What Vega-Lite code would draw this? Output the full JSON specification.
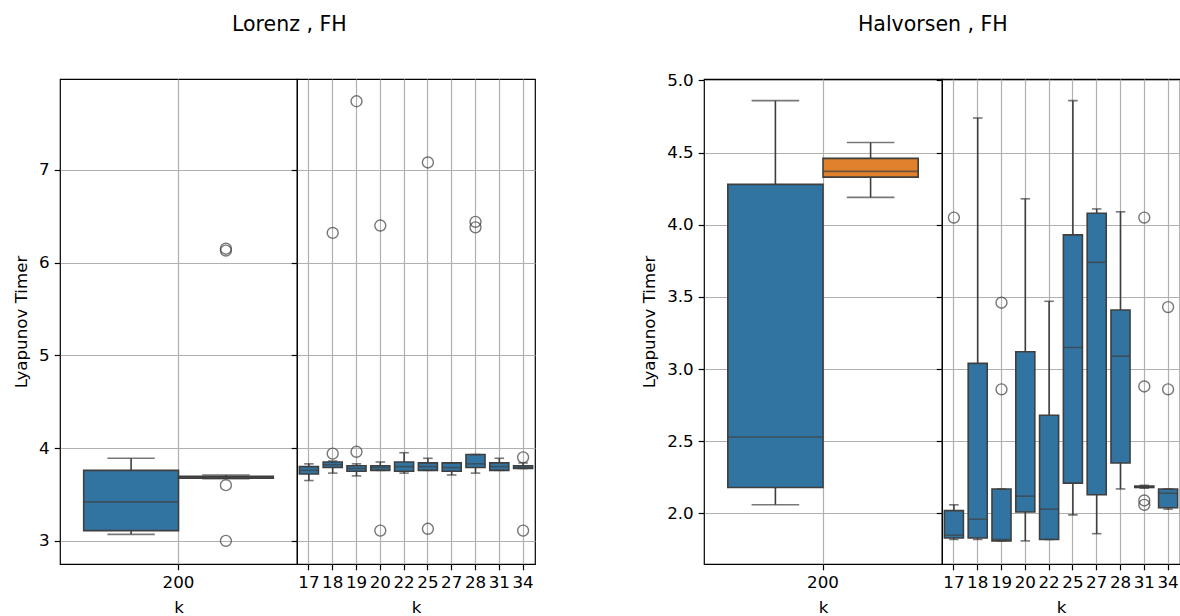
{
  "$schema": "https://vega.github.io/schema/vega-lite/v6.json",
  "padding": {"left": 12, "top": 14, "right": 0, "bottom": 0},
  "background": "white",
  "datasets": {
    "L200_box": [
      {"k": "200", "g": "A", "lo": 3.07, "q1": 3.11, "med": 3.42, "q3": 3.76, "hi": 3.89},
      {"k": "200", "g": "B", "lo": 3.67, "q1": 3.675, "med": 3.685, "q3": 3.695, "hi": 3.71}
    ],
    "L200_out": [
      {"k": "200", "g": "B", "v": 6.15},
      {"k": "200", "g": "B", "v": 6.13},
      {"k": "200", "g": "B", "v": 3.60},
      {"k": "200", "g": "B", "v": 3.00}
    ],
    "Lk_box": [
      {"k": "17", "lo": 3.65, "q1": 3.72, "med": 3.76, "q3": 3.80, "hi": 3.83},
      {"k": "18", "lo": 3.73, "q1": 3.79, "med": 3.82, "q3": 3.85, "hi": 3.86},
      {"k": "19", "lo": 3.70, "q1": 3.75, "med": 3.78, "q3": 3.81, "hi": 3.83},
      {"k": "20", "lo": 3.76, "q1": 3.76, "med": 3.79, "q3": 3.81, "hi": 3.85},
      {"k": "22", "lo": 3.73, "q1": 3.75, "med": 3.80, "q3": 3.85, "hi": 3.95},
      {"k": "25", "lo": 3.76, "q1": 3.76, "med": 3.80, "q3": 3.84, "hi": 3.89},
      {"k": "27", "lo": 3.71, "q1": 3.75, "med": 3.79, "q3": 3.84, "hi": 3.84},
      {"k": "28", "lo": 3.73, "q1": 3.79, "med": 3.83, "q3": 3.93, "hi": 3.93},
      {"k": "31", "lo": 3.76, "q1": 3.76, "med": 3.80, "q3": 3.84, "hi": 3.89},
      {"k": "34", "lo": 3.78, "q1": 3.78, "med": 3.79, "q3": 3.81, "hi": 3.84}
    ],
    "Lk_out": [
      {"k": "18", "v": 3.94}, {"k": "18", "v": 6.32},
      {"k": "19", "v": 3.96}, {"k": "19", "v": 7.74},
      {"k": "20", "v": 6.40}, {"k": "20", "v": 3.11},
      {"k": "25", "v": 7.08}, {"k": "25", "v": 3.13},
      {"k": "28", "v": 6.44}, {"k": "28", "v": 6.38},
      {"k": "34", "v": 3.90}, {"k": "34", "v": 3.11}
    ],
    "H200_box": [
      {"k": "200", "g": "A", "lo": 2.06, "q1": 2.18, "med": 2.53, "q3": 4.28, "hi": 4.86},
      {"k": "200", "g": "B", "lo": 4.19, "q1": 4.33, "med": 4.37, "q3": 4.46, "hi": 4.57}
    ],
    "Hk_box": [
      {"k": "17", "lo": 1.82, "q1": 1.83, "med": 1.85, "q3": 2.02, "hi": 2.06},
      {"k": "18", "lo": 1.82, "q1": 1.83, "med": 1.96, "q3": 3.04, "hi": 4.74},
      {"k": "19", "lo": 1.81, "q1": 1.81, "med": 1.82, "q3": 2.17, "hi": 2.17},
      {"k": "20", "lo": 1.81, "q1": 2.01, "med": 2.12, "q3": 3.12, "hi": 4.18},
      {"k": "22", "lo": 1.82, "q1": 1.82, "med": 2.03, "q3": 2.68, "hi": 3.47},
      {"k": "25", "lo": 1.99, "q1": 2.21, "med": 3.15, "q3": 3.93, "hi": 4.86},
      {"k": "27", "lo": 1.86, "q1": 2.13, "med": 3.74, "q3": 4.08, "hi": 4.11},
      {"k": "28", "lo": 2.17, "q1": 2.35, "med": 3.09, "q3": 3.41, "hi": 4.09},
      {"k": "31", "lo": 2.175, "q1": 2.18, "med": 2.185, "q3": 2.19, "hi": 2.195},
      {"k": "34", "lo": 2.03, "q1": 2.04, "med": 2.14, "q3": 2.17, "hi": 2.17}
    ],
    "Hk_out": [
      {"k": "17", "v": 4.05},
      {"k": "19", "v": 3.46}, {"k": "19", "v": 2.86},
      {"k": "31", "v": 4.05}, {"k": "31", "v": 2.88}, {"k": "31", "v": 2.09}, {"k": "31", "v": 2.06},
      {"k": "34", "v": 3.43}, {"k": "34", "v": 2.86}
    ]
  },
  "hconcat": [
    {
      "title": {"text": "Lorenz , FH", "anchor": "middle", "offset": 43, "dx": 15},
      "bounds": "flush",
      "spacing": 0,
      "resolve": {"scale": {"x": "independent", "y": "independent", "xOffset": "independent"}},
      "hconcat": [
        {
          "width": 237, "height": 485,
          "layer": [
            {"data": {"name": "L200_box"}, "mark": {"type": "rule", "color": "#3f3f3f", "strokeWidth": 1.6},
             "encoding": {
               "x": {"field": "k", "type": "nominal", "scale": {"domain": ["200"], "paddingInner": 0, "paddingOuter": 0.125}, "axis": {"title": "k", "labelAngle": 0, "bandPosition": 0.5}},
               "xOffset": {"field": "g", "type": "nominal", "scale": {"domain": ["A", "B"], "paddingInner": 0, "paddingOuter": 0}},
               "y": {"field": "lo", "type": "quantitative", "scale": {"domain": [2.75, 7.98], "nice": false, "zero": false}, "axis": {"title": "Lyapunov Timer", "values": [3, 4, 5, 6, 7], "format": "d"}},
               "y2": {"field": "hi"}}},
            {"data": {"name": "L200_box"}, "mark": {"type": "bar", "stroke": "#3f3f3f", "strokeWidth": 1.6},
             "encoding": {
               "x": {"field": "k", "type": "nominal"},
               "xOffset": {"field": "g", "type": "nominal"},
               "y": {"field": "q1", "type": "quantitative"},
               "y2": {"field": "q3"},
               "color": {"field": "g", "type": "nominal", "scale": {"domain": ["A", "B"], "range": ["#3274a1", "#e1812c"]}, "legend": null}}},
            {"data": {"name": "L200_box"}, "mark": {"type": "tick", "color": "#3f3f3f", "size": 94.8, "thickness": 1.6},
             "encoding": {"x": {"field": "k", "type": "nominal"}, "xOffset": {"field": "g", "type": "nominal"}, "y": {"field": "med", "type": "quantitative"}}},
            {"data": {"name": "L200_box"}, "mark": {"type": "tick", "color": "#3f3f3f", "size": 47.4, "thickness": 1.6},
             "encoding": {"x": {"field": "k", "type": "nominal"}, "xOffset": {"field": "g", "type": "nominal"}, "y": {"field": "lo", "type": "quantitative"}}},
            {"data": {"name": "L200_box"}, "mark": {"type": "tick", "color": "#3f3f3f", "size": 47.4, "thickness": 1.6},
             "encoding": {"x": {"field": "k", "type": "nominal"}, "xOffset": {"field": "g", "type": "nominal"}, "y": {"field": "hi", "type": "quantitative"}}},
            {"data": {"name": "L200_out"}, "mark": {"type": "point", "shape": "circle", "filled": false, "color": "#3f3f3f", "size": 120, "strokeWidth": 1.4},
             "encoding": {"x": {"field": "k", "type": "nominal"}, "xOffset": {"field": "g", "type": "nominal"}, "y": {"field": "v", "type": "quantitative"}}}
          ]
        },
        {
          "width": 238, "height": 485,
          "layer": [
            {"data": {"name": "Lk_box"}, "mark": {"type": "rule", "color": "#3f3f3f", "strokeWidth": 1.6},
             "encoding": {
               "x": {"field": "k", "type": "ordinal", "scale": {"domain": ["17", "18", "19", "20", "22", "25", "27", "28", "31", "34"], "paddingInner": 0, "paddingOuter": 0}, "axis": {"title": "k", "labelAngle": 0, "bandPosition": 0.5, "labelOverlap": false}},
               "y": {"field": "lo", "type": "quantitative", "scale": {"domain": [2.75, 7.98], "nice": false, "zero": false}, "axis": {"title": null, "labels": false, "values": [3, 4, 5, 6, 7]}},
               "y2": {"field": "hi"}}},
            {"data": {"name": "Lk_box"}, "mark": {"type": "bar", "fill": "#3274a1", "stroke": "#3f3f3f", "strokeWidth": 1.6, "width": {"band": 0.8}},
             "encoding": {"x": {"field": "k", "type": "ordinal"}, "y": {"field": "q1", "type": "quantitative"}, "y2": {"field": "q3"}}},
            {"data": {"name": "Lk_box"}, "mark": {"type": "tick", "color": "#3f3f3f", "size": 19, "thickness": 1.6},
             "encoding": {"x": {"field": "k", "type": "ordinal"}, "y": {"field": "med", "type": "quantitative"}}},
            {"data": {"name": "Lk_box"}, "mark": {"type": "tick", "color": "#3f3f3f", "size": 9.5, "thickness": 1.6},
             "encoding": {"x": {"field": "k", "type": "ordinal"}, "y": {"field": "lo", "type": "quantitative"}}},
            {"data": {"name": "Lk_box"}, "mark": {"type": "tick", "color": "#3f3f3f", "size": 9.5, "thickness": 1.6},
             "encoding": {"x": {"field": "k", "type": "ordinal"}, "y": {"field": "hi", "type": "quantitative"}}},
            {"data": {"name": "Lk_out"}, "mark": {"type": "point", "shape": "circle", "filled": false, "color": "#3f3f3f", "size": 120, "strokeWidth": 1.4},
             "encoding": {"x": {"field": "k", "type": "ordinal"}, "y": {"field": "v", "type": "quantitative"}}}
          ]
        }
      ]
    },
    {
      "title": {"text": "Halvorsen , FH", "anchor": "middle", "offset": 36, "dx": 22},
      "bounds": "flush",
      "spacing": 0,
      "resolve": {"scale": {"x": "independent", "y": "independent", "xOffset": "independent"}},
      "hconcat": [
        {
          "width": 238, "height": 485,
          "layer": [
            {"data": {"name": "H200_box"}, "mark": {"type": "rule", "color": "#3f3f3f", "strokeWidth": 1.6},
             "encoding": {
               "x": {"field": "k", "type": "nominal", "scale": {"domain": ["200"], "paddingInner": 0, "paddingOuter": 0.125}, "axis": {"title": "k", "labelAngle": 0, "bandPosition": 0.5}},
               "xOffset": {"field": "g", "type": "nominal", "scale": {"domain": ["A", "B"], "paddingInner": 0, "paddingOuter": 0}},
               "y": {"field": "lo", "type": "quantitative", "scale": {"domain": [1.65, 5.01], "nice": false, "zero": false}, "axis": {"title": "Lyapunov Timer", "values": [2.0, 2.5, 3.0, 3.5, 4.0, 4.5, 5.0], "format": ".1f"}},
               "y2": {"field": "hi"}}},
            {"data": {"name": "H200_box"}, "mark": {"type": "bar", "stroke": "#3f3f3f", "strokeWidth": 1.6},
             "encoding": {
               "x": {"field": "k", "type": "nominal"},
               "xOffset": {"field": "g", "type": "nominal"},
               "y": {"field": "q1", "type": "quantitative"},
               "y2": {"field": "q3"},
               "color": {"field": "g", "type": "nominal", "scale": {"domain": ["A", "B"], "range": ["#3274a1", "#e1812c"]}, "legend": null}}},
            {"data": {"name": "H200_box"}, "mark": {"type": "tick", "color": "#3f3f3f", "size": 95.2, "thickness": 1.6},
             "encoding": {"x": {"field": "k", "type": "nominal"}, "xOffset": {"field": "g", "type": "nominal"}, "y": {"field": "med", "type": "quantitative"}}},
            {"data": {"name": "H200_box"}, "mark": {"type": "tick", "color": "#3f3f3f", "size": 47.6, "thickness": 1.6},
             "encoding": {"x": {"field": "k", "type": "nominal"}, "xOffset": {"field": "g", "type": "nominal"}, "y": {"field": "lo", "type": "quantitative"}}},
            {"data": {"name": "H200_box"}, "mark": {"type": "tick", "color": "#3f3f3f", "size": 47.6, "thickness": 1.6},
             "encoding": {"x": {"field": "k", "type": "nominal"}, "xOffset": {"field": "g", "type": "nominal"}, "y": {"field": "hi", "type": "quantitative"}}}
          ]
        },
        {
          "width": 238, "height": 485,
          "layer": [
            {"data": {"name": "Hk_box"}, "mark": {"type": "rule", "color": "#3f3f3f", "strokeWidth": 1.6},
             "encoding": {
               "x": {"field": "k", "type": "ordinal", "scale": {"domain": ["17", "18", "19", "20", "22", "25", "27", "28", "31", "34"], "paddingInner": 0, "paddingOuter": 0}, "axis": {"title": "k", "labelAngle": 0, "bandPosition": 0.5, "labelOverlap": false}},
               "y": {"field": "lo", "type": "quantitative", "scale": {"domain": [1.65, 5.01], "nice": false, "zero": false}, "axis": {"title": null, "labels": false, "values": [2.0, 2.5, 3.0, 3.5, 4.0, 4.5, 5.0]}},
               "y2": {"field": "hi"}}},
            {"data": {"name": "Hk_box"}, "mark": {"type": "bar", "fill": "#3274a1", "stroke": "#3f3f3f", "strokeWidth": 1.6, "width": {"band": 0.8}},
             "encoding": {"x": {"field": "k", "type": "ordinal"}, "y": {"field": "q1", "type": "quantitative"}, "y2": {"field": "q3"}}},
            {"data": {"name": "Hk_box"}, "mark": {"type": "tick", "color": "#3f3f3f", "size": 19, "thickness": 1.6},
             "encoding": {"x": {"field": "k", "type": "ordinal"}, "y": {"field": "med", "type": "quantitative"}}},
            {"data": {"name": "Hk_box"}, "mark": {"type": "tick", "color": "#3f3f3f", "size": 9.5, "thickness": 1.6},
             "encoding": {"x": {"field": "k", "type": "ordinal"}, "y": {"field": "lo", "type": "quantitative"}}},
            {"data": {"name": "Hk_box"}, "mark": {"type": "tick", "color": "#3f3f3f", "size": 9.5, "thickness": 1.6},
             "encoding": {"x": {"field": "k", "type": "ordinal"}, "y": {"field": "hi", "type": "quantitative"}}},
            {"data": {"name": "Hk_out"}, "mark": {"type": "point", "shape": "circle", "filled": false, "color": "#3f3f3f", "size": 120, "strokeWidth": 1.4},
             "encoding": {"x": {"field": "k", "type": "ordinal"}, "y": {"field": "v", "type": "quantitative"}}}
          ]
        }
      ]
    }
  ],
  "spacing": 105,
  "resolve": {"scale": {"x": "independent", "y": "independent", "xOffset": "independent", "color": "independent"}},
  "config": {
    "font": "DejaVu Sans",
    "view": {"stroke": "#000000", "strokeWidth": 1.2},
    "title": {"font": "DejaVu Sans", "fontSize": 20.5, "fontWeight": "normal", "color": "#000000"},
    "axis": {
      "labelFont": "DejaVu Sans", "labelFontSize": 16.7, "labelColor": "#000000",
      "titleFont": "DejaVu Sans", "titleFontSize": 16.7, "titleFontWeight": "normal", "titleColor": "#000000",
      "tickColor": "#000000", "tickSize": 5.8, "tickWidth": 1.2, "labelPadding": 5,
      "grid": true, "gridColor": "#b0b0b0", "gridWidth": 1.2, "domain": false,
      "titlePadding": 8
    }
  }
}
